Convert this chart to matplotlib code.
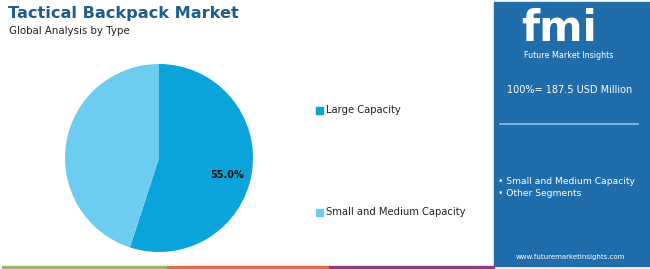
import matplotlib.pyplot as plt
from matplotlib.patches import Rectangle

# Data
segments = ["Large Capacity", "Small and Medium Capacity"]
shares = [55.0, 45.0]
colors = ["#0aa3da", "#6dcdf1"]
total_label = "100%= 187.5 USD Million"
panel_items = ["Small and Medium Capacity", "Other Segments"]

W, H = 650, 269
fig = plt.figure(figsize=(W / 100, H / 100), dpi=100)
fig.patch.set_facecolor("white")

def fx(x):
    return x / W

def fy(y):
    return 1 - y / H

# Title block
fig.text(fx(8), fy(14), "Tactical Backpack Market", fontsize=11.6, fontweight="bold",
         color="#1d5e8e", va="center", ha="left")
fig.text(fx(9), fy(31), "Global Analysis by Type", fontsize=7.4, color="#222222",
         va="center", ha="left")

# Pie
r = 94
cx, cy = 159, 158
ax = fig.add_axes([fx(cx - r), fy(cy + r), (2 * r) / W, (2 * r) / H])
wedges, _ = ax.pie(shares, colors=colors, startangle=90, counterclock=False,
                   wedgeprops=dict(linewidth=0))
ax.set_aspect("auto")
ax.set_xlim(-1, 1)
ax.set_ylim(-1, 1)
ax.axis("off")
ax.text(0.73, -0.18, f"{shares[0]:.1f}%", fontsize=7, fontweight="bold",
        color="#111111", ha="center", va="center")

# Legend
for i, (name, c) in enumerate(zip(segments, colors)):
    yy = [110, 212][i]
    fig.patches.append(Rectangle((fx(316), fy(yy + 3.5)), 6.5 / W, 6.5 / H,
                                 transform=fig.transFigure, color=c, figure=fig))
    fig.text(fx(326), fy(yy), name, fontsize=7.2, color="#222222", va="center", ha="left")

# Right panel
px0 = 494
fig.patches.append(Rectangle((fx(px0), fy(266)), (W - px0) / W, 264 / H,
                             transform=fig.transFigure, color="#1f6dab", figure=fig))
fig.text(fx(559), fy(29), "fmi", fontsize=30, fontweight="bold", color="white",
         ha="center", va="center")
fig.text(fx(569), fy(55), "Future Market Insights", fontsize=5.8, color="white",
         ha="center", va="center")
fig.text(fx(570), fy(90), total_label, fontsize=7, color="white", ha="center", va="center")
fig.lines.append(plt.Line2D([fx(500), fx(638)], [fy(124), fy(124)], color="#8cc4ea",
                            linewidth=1.2, transform=fig.transFigure))
for i, item in enumerate(panel_items):
    fig.text(fx(498), fy(181 + 13 * i), "• " + item, fontsize=6.6, color="white",
             ha="left", va="center")
fig.text(fx(570), fy(257), "www.futuremarketinsights.com", fontsize=5, color="white",
         ha="center", va="center")

# Bottom stripe
stripe = [("#8dc05a", 2, 167), ("#e0703f", 167, 329), ("#8e3a90", 329, 494)]
for c, x0, x1 in stripe:
    fig.patches.append(Rectangle((fx(x0), 0), (x1 - x0) / W, 3 / H,
                                 transform=fig.transFigure, color=c, figure=fig))

fig.savefig("out.png", dpi=100)
